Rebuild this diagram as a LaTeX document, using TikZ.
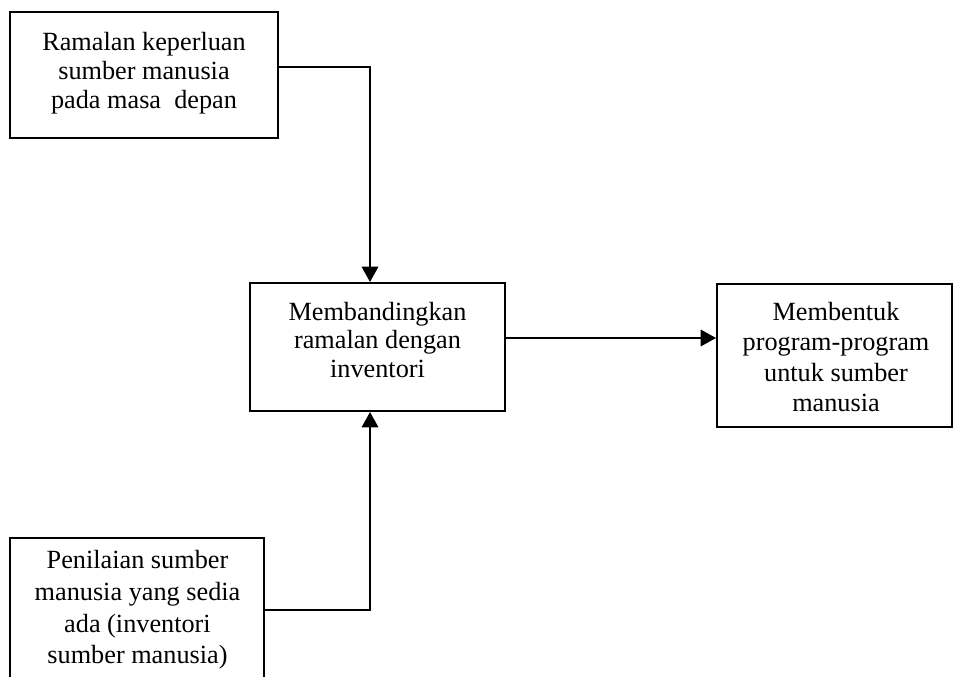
\documentclass[tikz,border=0pt]{standalone}
\usepackage{fontspec}
\setmainfont{Liberation Serif}
\usetikzlibrary{arrows.meta}
\begin{document}
\begin{tikzpicture}[x=0.457pt,y=-0.457pt,
  boxshape/.style={draw,line width=0.9pt,rectangle,inner sep=0pt},
  txt/.style={align=center,inner sep=0pt,font=\fontsize{12}{#1}\selectfont},
  conn/.style={line width=0.9pt},
  arr/.style={conn,-{Triangle[length=7pt,width=7.5pt]}}]
\clip (0,0) rectangle (953,677);
\useasboundingbox (0,0) rectangle (953,677);
% boxes
\node[boxshape,minimum width=268*0.457pt,minimum height=126*0.457pt] (a) at (144,75) {};
\node[boxshape,minimum width=255*0.457pt,minimum height=128*0.457pt] (b) at (377.5,347) {};
\node[boxshape,minimum width=235*0.457pt,minimum height=143*0.457pt] (c) at (834.5,355.5) {};
\node[boxshape,minimum width=254*0.457pt,minimum height=170*0.457pt] (d) at (137,623) {};
% texts
\node[txt=13.2pt] (ta) at (144,73) {Ramalan keperluan\\sumber manusia\\pada masa\ \ depan};
\node[txt=13pt] (tb) at (377.5,340) {Membandingkan\\ramalan dengan\\inventori};
\node[txt=14pt] (tc) at (836,357) {Membentuk\\program-program\\untuk sumber\\manusia};
\node[txt=14.5pt] (td) at (137.5,610) {Penilaian sumber\\manusia yang sedia\\ada (inventori\\sumber manusia)};
% junctions
\coordinate (ja) at (370,67);
\coordinate (jb) at (0,338);
\coordinate (jd) at (370,610);
% connectors
\draw[arr] (a.east |- ja) -| (b.north -| ja);
\draw[arr] (d.east |- jd) -| (b.south -| jd);
\draw[arr] (b.east |- jb) -- (c.west |- jb);
\end{tikzpicture}
\end{document}
